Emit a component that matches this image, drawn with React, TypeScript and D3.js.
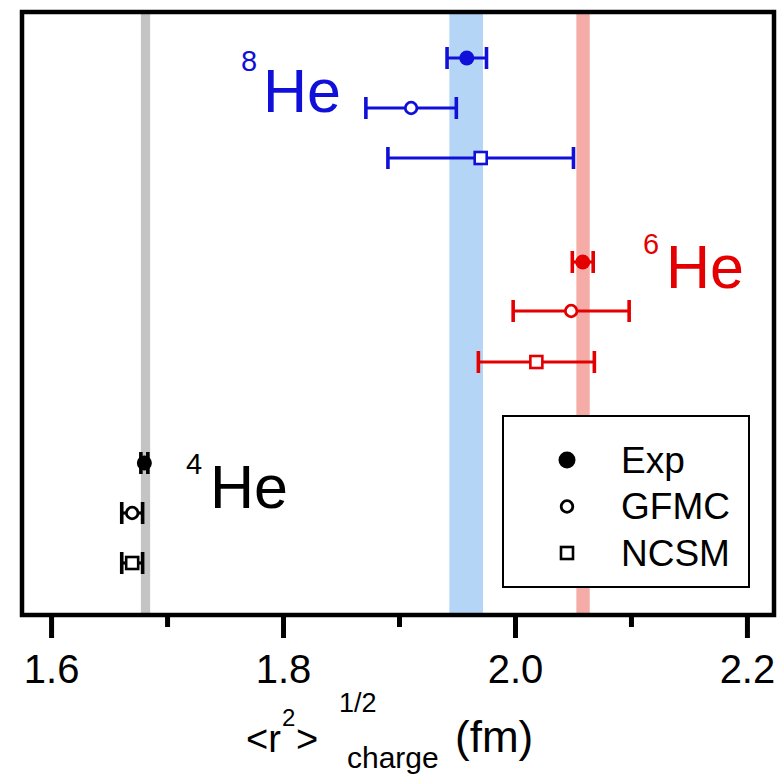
import React from "react";
import * as d3 from "d3";

// ---- data ----
const methods = ["Exp", "GFMC", "NCSM"];
const isotopes = ["8He", "6He", "4He"];
const isotopeColors = ["#1010d8", "#e40000", "#000000"];
// row position (vertical index) for each isotope x method
const rowPos = [
  [0, 1, 2],
  [4.08, 5.06, 6.08],
  [8.1, 9.1, 10.1],
];
// radius values (fm)
const radiusValues = [
  [1.958, 1.91, 1.97],
  [2.058, 2.048, 2.018],
  [1.68, 1.6695, 1.6695],
];
const radiusErrors = [
  [0.017, 0.039, 0.08],
  [0.009, 0.05, 0.05],
  [0.003, 0.009, 0.009],
];
// experimental bands [lo, hi]
const bandLo = [1.943, 2.0525, 1.677];
const bandHi = [1.972, 2.064, 1.685];
const bandColors = ["#b5d5f7", "#f5aca6", "#c4c4c4"];
const majorTicks = [1.6, 1.8, 2.0, 2.2];
const minorTicks = [1.7, 1.9, 2.1];

const FONT = "'Liberation Sans', Arial, Helvetica, sans-serif";

export default function App() {
  const left = 22, right = 774, top = 12, bottom = 615;
  const x = d3.scaleLinear().domain([1.5745, 2.2229]).range([left, right]);
  const y = d3.scaleLinear().domain([-0.92, 11.14]).range([top, bottom]);

  const points: any[] = [];
  isotopes.forEach((iso, i) => {
    methods.forEach((m, j) => {
      points.push({
        iso, m, j,
        color: isotopeColors[i],
        v: radiusValues[i][j],
        e: radiusErrors[i][j],
        r: rowPos[i][j],
      });
    });
  });

  const marker = (p: any) => {
    const cx = x(p.v), cy = y(p.r);
    if (p.j === 0) return <circle cx={cx} cy={cy} r={7.5} fill={p.color} />;
    if (p.j === 1)
      return <circle cx={cx} cy={cy} r={5.8} fill="#fff" stroke={p.color} strokeWidth={2.8} />;
    return <rect x={cx - 6} y={cy - 6} width={12} height={12} fill="#fff" stroke={p.color} strokeWidth={2.6} />;
  };

  return (
    <svg width={780} height={780} style={{ display: "block", position: "absolute", left: 0, top: 0 }}>
      <rect x={0} y={0} width={780} height={780} fill="#fff" />
      {/* bands */}
      {bandLo.map((lo, i) => (
        <rect key={i} x={x(lo)} y={top} width={x(bandHi[i]) - x(lo)} height={bottom - top} fill={bandColors[i]} />
      ))}
      {/* error bars and markers */}
      {points.map((p, k) => {
        const cy = y(p.r);
        const x0 = x(p.v - p.e), x1 = x(p.v + p.e);
        return (
          <g key={k}>
            <line x1={x0} x2={x1} y1={cy} y2={cy} stroke={p.color} strokeWidth={3.2} />
            <line x1={x0} x2={x0} y1={cy - 11} y2={cy + 11} stroke={p.color} strokeWidth={3.6} />
            <line x1={x1} x2={x1} y1={cy - 11} y2={cy + 11} stroke={p.color} strokeWidth={3.6} />
            {marker(p)}
          </g>
        );
      })}
      {/* isotope labels */}
      <g fontFamily={FONT}>
        <text x={241} y={71} fontSize={29} fill={isotopeColors[0]}>8</text>
        <text x={263} y={112} fontSize={61} fill={isotopeColors[0]}>He</text>
        <text x={643} y={254} fontSize={29} fill={isotopeColors[1]}>6</text>
        <text x={666} y={288} fontSize={61} fill={isotopeColors[1]}>He</text>
        <text x={186} y={474} fontSize={29} fill={isotopeColors[2]}>4</text>
        <text x={210} y={508} fontSize={61} fill={isotopeColors[2]}>He</text>
      </g>
      {/* legend */}
      <g fontFamily={FONT}>
        <rect x={503} y={416} width={246} height={171} fill="#fff" stroke="#000" strokeWidth={2} />
        {methods.map((m, j) => {
          const cy = 460 + j * 46.5;
          return (
            <g key={m}>
              {j === 0 && <circle cx={567} cy={cy} r={8.5} fill="#000" />}
              {j === 1 && <circle cx={567} cy={cy} r={5.8} fill="#fff" stroke="#000" strokeWidth={2.8} />}
              {j === 2 && <rect x={561} y={cy - 6} width={12} height={12} fill="#fff" stroke="#000" strokeWidth={2.6} />}
              <text x={621} y={cy + 12.5} fontSize={37} fill="#000">{m}</text>
            </g>
          );
        })}
      </g>
      {/* frame */}
      <rect x={left} y={top} width={right - left} height={bottom - top} fill="none" stroke="#000" strokeWidth={4.5} />
      {/* x axis ticks */}
      {majorTicks.map((t) => (
        <g key={t}>
          <line x1={x(t)} x2={x(t)} y1={bottom} y2={bottom + 23} stroke="#000" strokeWidth={5} />
          <text x={x(t)} y={683} textAnchor="middle" fontFamily={FONT} fontSize={40} fill="#000">
            {d3.format(".1f")(t)}
          </text>
        </g>
      ))}
      {minorTicks.map((t) => (
        <line key={t} x1={x(t)} x2={x(t)} y1={bottom} y2={bottom + 12} stroke="#000" strokeWidth={5} />
      ))}
      {/* axis title */}
      <g fontFamily={FONT} fill="#000">
        <text x={246} y={752} fontSize={38}>&lt;r</text>
        <text x={282} y={726} fontSize={24}>2</text>
        <text x={296} y={752} fontSize={38}>&gt;</text>
        <text x={339} y={712} fontSize={27}>1/2</text>
        <text x={347} y={768} fontSize={30}>charge</text>
        <text x={455} y={752} fontSize={44}>(fm)</text>
      </g>
    </svg>
  );
}
